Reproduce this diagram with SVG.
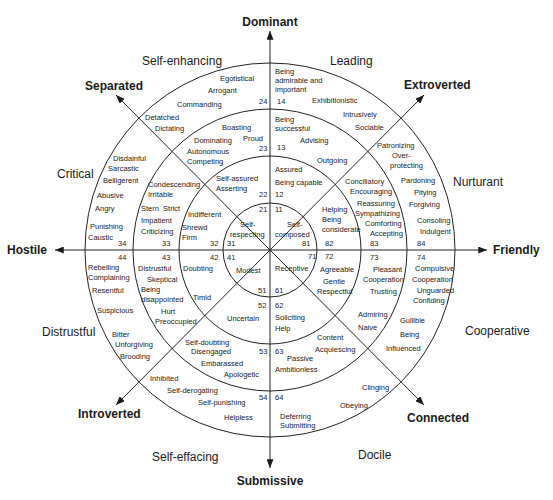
<svg xmlns="http://www.w3.org/2000/svg" width="553" height="500" viewBox="0 0 553 500">
<style>
.ring{fill:none;stroke:#222;stroke-width:1}
.ax{stroke:#222;stroke-width:1;fill:none}
text{font-family:"Liberation Sans",Arial,sans-serif;fill:#1a1a1a}
.s{font-size:7.5px}
.o{font-size:12px}
.b{font-size:12px;font-weight:bold}
</style>
<defs>
<marker id="ah" viewBox="0 0 10 8" refX="10" refY="4" markerWidth="9" markerHeight="7" markerUnits="userSpaceOnUse" orient="auto-start-reverse">
<path d="M0,0 L10,4 L0,8 z" fill="#1a1a1a"/>
</marker>
</defs>
<g id="rings">
<ellipse class="ring" cx="270" cy="250" rx="185" ry="187"/>
<ellipse class="ring" cx="270" cy="250" rx="137" ry="141"/>
<ellipse class="ring" cx="270" cy="250" rx="91" ry="94"/>
<ellipse class="ring" cx="270" cy="250" rx="47" ry="47"/>
</g>
<g id="connectors">
<line class="ax" x1="270" y1="468" x2="270" y2="31" marker-start="url(#ah)" marker-end="url(#ah)"/>
<line class="ax" x1="55" y1="250" x2="487" y2="250" marker-start="url(#ah)" marker-end="url(#ah)"/>
<line class="ax" x1="116" y1="95" x2="424" y2="405" marker-start="url(#ah)" marker-end="url(#ah)"/>
<line class="ax" x1="116" y1="405" x2="424" y2="95" marker-start="url(#ah)" marker-end="url(#ah)"/>
</g>
<g id="axis-labels">
<text class="b" x="270" y="26" text-anchor="middle">Dominant</text>
<text class="b" x="270" y="485" text-anchor="middle">Submissive</text>
<text class="b" x="7" y="254">Hostile</text>
<text class="b" x="493" y="254">Friendly</text>
<text class="b" x="85" y="90">Separated</text>
<text class="b" x="404" y="89">Extroverted</text>
<text class="b" x="78" y="418">Introverted</text>
<text class="b" x="407" y="422">Connected</text>
</g>
<g id="octant-labels">
<text class="o" x="142" y="65">Self-enhancing</text>
<text class="o" x="330" y="65">Leading</text>
<text class="o" x="57" y="178">Critical</text>
<text class="o" x="453" y="186">Nurturant</text>
<text class="o" x="42" y="336">Distrustful</text>
<text class="o" x="465" y="335">Cooperative</text>
<text class="o" x="152" y="461">Self-effacing</text>
<text class="o" x="358" y="459">Docile</text>
</g>
<g id="octant-1">
<text class="s" x="275" y="74">Being</text>
<text class="s" x="275" y="83">admirable and</text>
<text class="s" x="275" y="92">important</text>
<text class="s" x="277" y="104">14</text>
<text class="s" x="312" y="103">Exhibitionistic</text>
<text class="s" x="343" y="117">Intrusively</text>
<text class="s" x="355" y="130">Sociable</text>
<text class="s" x="275" y="122">Being</text>
<text class="s" x="275" y="131">successful</text>
<text class="s" x="300" y="143">Advising</text>
<text class="s" x="277" y="150">13</text>
<text class="s" x="317" y="163">Outgoing</text>
<text class="s" x="275" y="172">Assured</text>
<text class="s" x="275" y="185">Being capable</text>
<text class="s" x="275" y="197">12</text>
<text class="s" x="275" y="212">11</text>
</g>
<g id="octant-2">
<text class="s" x="220" y="81">Egotistical</text>
<text class="s" x="208" y="93">Arrogant</text>
<text class="s" x="177" y="107">Commanding</text>
<text class="s" x="259" y="104">24</text>
<text class="s" x="145" y="120">Detatched</text>
<text class="s" x="155" y="131">Dictating</text>
<text class="s" x="222" y="130">Boasting</text>
<text class="s" x="194" y="143">Dominating</text>
<text class="s" x="243" y="141">Proud</text>
<text class="s" x="187" y="154">Autonomous</text>
<text class="s" x="187" y="164">Competing</text>
<text class="s" x="259" y="151">23</text>
<text class="s" x="216" y="181">Self-assured</text>
<text class="s" x="216" y="191">Asserting</text>
<text class="s" x="259" y="197">22</text>
<text class="s" x="259" y="212">21</text>
<text class="s" x="240" y="227">Self-</text>
<text class="s" x="230" y="237">respecting</text>
<text class="s" x="227" y="246">31</text>
</g>
<g id="octant-3">
<text class="s" x="113" y="161">Disdainful</text>
<text class="s" x="108" y="171">Sarcastic</text>
<text class="s" x="103" y="183">Belligerent</text>
<text class="s" x="97" y="198">Abusive</text>
<text class="s" x="95" y="211">Angry</text>
<text class="s" x="90" y="229">Punishing</text>
<text class="s" x="88" y="240">Caustic</text>
<text class="s" x="118" y="246">34</text>
<text class="s" x="148" y="187">Condescending</text>
<text class="s" x="148" y="197">Irritable</text>
<text class="s" x="141" y="211" xml:space="preserve">Stern  Strict</text>
<text class="s" x="141" y="223">Impatient</text>
<text class="s" x="141" y="234">Criticizing</text>
<text class="s" x="162" y="246">33</text>
<text class="s" x="188" y="217">Indifferent</text>
<text class="s" x="182" y="230">Shrewd</text>
<text class="s" x="182" y="240">Firm</text>
<text class="s" x="210" y="246">32</text>
</g>
<g id="octant-4">
<text class="s" x="118" y="260">44</text>
<text class="s" x="88" y="270">Rebelling</text>
<text class="s" x="88" y="280">Complaining</text>
<text class="s" x="92" y="293">Resentful</text>
<text class="s" x="97" y="313">Suspicious</text>
<text class="s" x="112" y="337">Bitter</text>
<text class="s" x="115" y="347">Unforgiving</text>
<text class="s" x="120" y="359">Brooding</text>
<text class="s" x="162" y="260">43</text>
<text class="s" x="138" y="271">Distrustful</text>
<text class="s" x="147" y="282">Skeptical</text>
<text class="s" x="141" y="292">Being</text>
<text class="s" x="141" y="302">disappointed</text>
<text class="s" x="161" y="314">Hurt</text>
<text class="s" x="155" y="324">Preoccupied</text>
<text class="s" x="210" y="260">42</text>
<text class="s" x="183" y="271">Doubting</text>
<text class="s" x="193" y="300">Timid</text>
<text class="s" x="227" y="260">41</text>
<text class="s" x="236" y="273">Modest</text>
</g>
<g id="octant-5">
<text class="s" x="258" y="293">51</text>
<text class="s" x="258" y="308">52</text>
<text class="s" x="227" y="321">Uncertain</text>
<text class="s" x="185" y="345">Self-doubting</text>
<text class="s" x="191" y="354">Disengaged</text>
<text class="s" x="201" y="366">Embarassed</text>
<text class="s" x="224" y="377">Apologetic</text>
<text class="s" x="259" y="354">53</text>
<text class="s" x="150" y="381">Inhibited</text>
<text class="s" x="167" y="393">Self-derogating</text>
<text class="s" x="198" y="405">Self-punishing</text>
<text class="s" x="259" y="400">54</text>
<text class="s" x="224" y="420">Helpless</text>
</g>
<g id="octant-6">
<text class="s" x="275" y="271">Receptive</text>
<text class="s" x="275" y="293">61</text>
<text class="s" x="275" y="308">62</text>
<text class="s" x="275" y="320">Soliciting</text>
<text class="s" x="275" y="331">Help</text>
<text class="s" x="317" y="340">Content</text>
<text class="s" x="315" y="352">Acquiescing</text>
<text class="s" x="275" y="354">63</text>
<text class="s" x="287" y="361">Passive</text>
<text class="s" x="275" y="372">Ambitionless</text>
<text class="s" x="275" y="400">64</text>
<text class="s" x="362" y="390">Clinging</text>
<text class="s" x="340" y="408">Obeying</text>
<text class="s" x="280" y="419">Deferring</text>
<text class="s" x="280" y="428">Submitting</text>
</g>
<g id="octant-7">
<text class="s" x="308" y="259">71</text>
<text class="s" x="325" y="259">72</text>
<text class="s" x="320" y="272">Agreeable</text>
<text class="s" x="323" y="284">Gentle</text>
<text class="s" x="317" y="294">Respectful</text>
<text class="s" x="370" y="260">73</text>
<text class="s" x="373" y="272">Pleasant</text>
<text class="s" x="363" y="282">Cooperation</text>
<text class="s" x="370" y="294">Trusting</text>
<text class="s" x="358" y="317">Admiring</text>
<text class="s" x="358" y="330">Naive</text>
<text class="s" x="417" y="260">74</text>
<text class="s" x="415" y="271">Compulsive</text>
<text class="s" x="412" y="282">Cooperation</text>
<text class="s" x="417" y="293">Unguarded</text>
<text class="s" x="413" y="303">Confiding</text>
<text class="s" x="400" y="323">Gullible</text>
<text class="s" x="400" y="337">Being</text>
<text class="s" x="386" y="351">Influenced</text>
</g>
<g id="octant-8">
<text class="s" x="302" y="246">81</text>
<text class="s" x="325" y="246">82</text>
<text class="s" x="370" y="246">83</text>
<text class="s" x="417" y="246">84</text>
<text class="s" x="287" y="227">Self-</text>
<text class="s" x="275" y="237">composed</text>
<text class="s" x="322" y="212">Helping</text>
<text class="s" x="322" y="222">Being</text>
<text class="s" x="322" y="232">considerate</text>
<text class="s" x="345" y="184">Conciliatory</text>
<text class="s" x="350" y="194">Encouraging</text>
<text class="s" x="357" y="206">Reassuring</text>
<text class="s" x="355" y="216">Sympathizing</text>
<text class="s" x="365" y="226">Comforting</text>
<text class="s" x="370" y="236">Accepting</text>
<text class="s" x="377" y="148">Patronizing</text>
<text class="s" x="392" y="158">Over-</text>
<text class="s" x="390" y="168">protecting</text>
<text class="s" x="401" y="183">Pardoning</text>
<text class="s" x="414" y="195">Pitying</text>
<text class="s" x="409" y="207">Forgiving</text>
<text class="s" x="417" y="223">Consoling</text>
<text class="s" x="420" y="234">Indulgent</text>
</g>
</svg>
